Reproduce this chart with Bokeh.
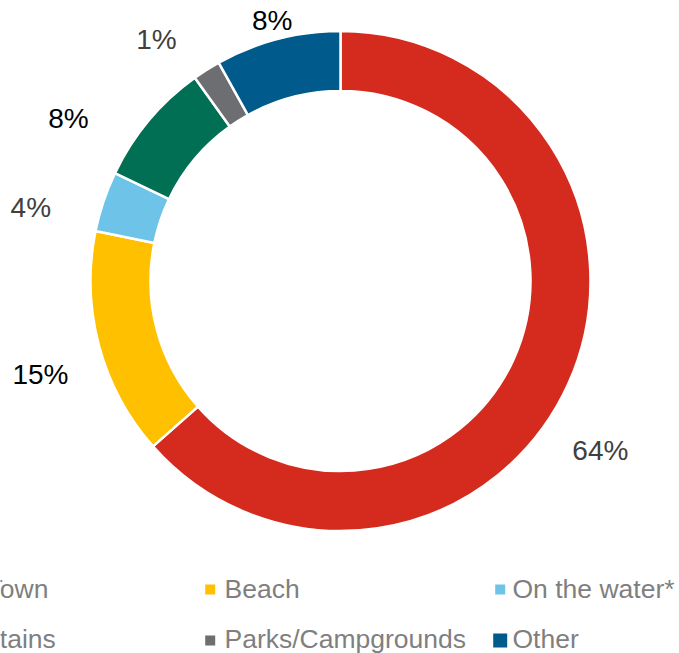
import math
from bokeh.plotting import figure
from bokeh.models import Range1d, ColumnDataSource
from bokeh.embed import file_html
from bokeh.resources import INLINE
from bokeh.core.properties import value

# ---- data ----
categories = ["City/Town", "Beach", "On the water*", "Mountains", "Parks/Campgrounds", "Other"]
shares = [63.5, 14.7, 3.9, 8.0, 1.8, 8.1]
labels = ["64%", "15%", "4%", "8%", "1%", "8%"]

# ---- styling ----
colors = ["#D52B1E", "#FFC000", "#6EC4E8", "#006F54", "#6D6E71", "#005A8B"]
label_colors = ["#404040", "#000000", "#404040", "#000000", "#404040", "#000000"]
label_nudges = [(-9, 48), (-15, 17), (-30, 20), (-46, 27), (-26, 8), (6, 25)]
legend_sizes = [10, 10, 10, 10, 10, 14]

W, H, OFF, PAGE_H = 679, 653, 0, 653


def sy(y):
    return PAGE_H - y


p = figure(width=W, height=H, x_range=Range1d(OFF, OFF + W), y_range=Range1d(PAGE_H - OFF - H, PAGE_H - OFF),
           output_backend="svg", toolbar_location=None, x_axis_type=None, y_axis_type=None,
           min_border=0, min_border_left=0, min_border_right=0, min_border_top=0, min_border_bottom=0)
p.grid.visible = False
p.outline_line_color = None
p.background_fill_color = "white"
p.border_fill_color = "white"

cx, cy_s = 340, 280.5
R_OUT, R_IN, R_LAB = 250, 190, 295
total = sum(shares)
cum = [0.0]
for s in shares:
    cum.append(cum[-1] + s / total)

starts = [math.pi / 2 - 2 * math.pi * cum[i + 1] for i in range(len(shares))]
ends = [math.pi / 2 - 2 * math.pi * cum[i] for i in range(len(shares))]
src = ColumnDataSource(dict(start=starts, end=ends, color=colors))
p.annular_wedge(x=cx, y=sy(cy_s), inner_radius=R_IN, outer_radius=R_OUT, start_angle="start", end_angle="end",
                direction="anticlock", fill_color="color", line_color="white", line_width=2.5, source=src)

lx, ly = [], []
for i in range(len(shares)):
    th = 2 * math.pi * (cum[i] + cum[i + 1]) / 2
    lx.append(cx + R_LAB * math.sin(th) + label_nudges[i][0])
    ly.append(sy(cy_s - R_LAB * math.cos(th) + label_nudges[i][1]))
p.text(x=lx, y=ly, text=labels, text_color=label_colors, text_align="center", text_baseline="middle",
       text_font=value("Liberation Sans"), text_font_size="28px")

# legend (manual, 3 columns x 2 rows, partly cut off at left like the source)
col_sq = [-86, 209.7, 499.7]
col_tx = [-67, 224, 512]
row_sq = [589, 640]
row_tx = [588.5, 638.5]
sqx, sqy, txx, txy = [], [], [], []
for i in range(len(categories)):
    c, r = i % 3, i // 3
    sqx.append(col_sq[c])
    sqy.append(sy(row_sq[r]))
    txx.append(col_tx[c])
    txy.append(sy(row_tx[r]))
p.rect(x=sqx, y=sqy, width=legend_sizes, height=legend_sizes, fill_color=colors, line_color=None)
p.text(x=txx, y=txy, text=categories, text_color="#7F7F7F", text_align="left", text_baseline="middle",
       text_font=value("Liberation Sans"), text_font_size="26.5px")

open("out.html", "w").write(file_html(p, INLINE))
